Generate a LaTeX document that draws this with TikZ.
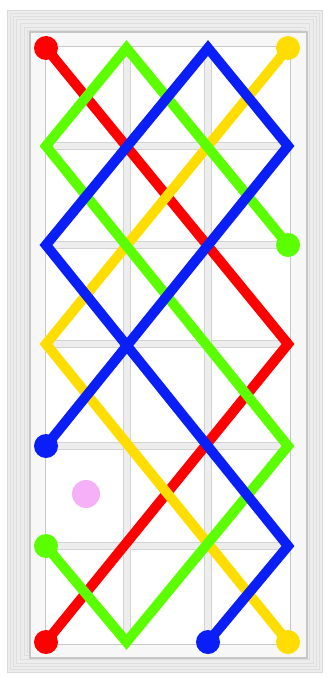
\documentclass[tikz,border=0pt]{standalone}
\usepackage{xcolor}
\usepackage{tikz}
\definecolor{figred}{HTML}{FF0000}
\definecolor{figyellow}{HTML}{FFDD00}
\definecolor{figgreen}{HTML}{5CFF00}
\definecolor{figblue}{HTML}{0A1EF8}
\definecolor{figpink}{HTML}{F5B0F7}
\definecolor{figsash}{HTML}{F7F7F7}
\definecolor{figmould}{HTML}{EDEDED}
\definecolor{figedge}{HTML}{C8C8C8}
\tikzset{
  track/.style={line width=10pt},
  enddot/.style={circle,fill=#1,inner sep=0pt,minimum size=24pt},
  bar/.style={fill=figmould,draw=figedge!80,line width=0.6pt}
}

\begin{document}
\begin{tikzpicture}[x=1pt,y=-1pt]
    \useasboundingbox (0,0) rectangle (328,679);
    \fill[white] (0,0) rectangle (328,679);
    \filldraw[fill=figmould,draw=figedge!70,line width=0.6pt] (7,10) rectangle (322,672);
    \foreach \d in {3,6,9,13,17,20}
      \draw[figedge!60,line width=0.5pt] (7+\d,10+\d) rectangle (322-\d,672-\d);
    \filldraw[fill=figsash,draw=gray!45,line width=1.2pt] (30,32) rectangle (307,658);
    \filldraw[fill=white,draw=figedge,line width=0.6pt] (45,46) rectangle (290,644);
    \foreach \y in {146,245,344,446,546}
      \filldraw[bar] (45,\y-3.5) rectangle (290,\y+3.5);
    \foreach \x in {126.5,208}
      \filldraw[bar] (\x-3.5,46) rectangle (\x+3.5,644);
    \foreach \xx [count=\i from 0] in {46,126.5,208,288}
      \foreach \yy [count=\j from 0] in {48,146,245,344,446,546,642}
        \coordinate (c\i\j) at (\xx,\yy);
    \node[enddot=figpink,minimum size=28pt] (spot) at (86,494) {};
    \node[enddot=figred] (red-a) at (c00) {};
    \node[enddot=figred] (red-b) at (c06) {};
    \draw[track,figred] (red-a.center) -- (c33) -- (red-b.center);
    \node[enddot=figyellow] (yellow-a) at (c30) {};
    \node[enddot=figyellow] (yellow-b) at (c36) {};
    \draw[track,figyellow] (yellow-a.center) -- (c03) -- (yellow-b.center);
    \node[enddot=figgreen] (green-a) at (c32) {};
    \node[enddot=figgreen] (green-b) at (c05) {};
    \draw[track,figgreen] (green-a.center) -- (c10) -- (c01) -- (c34) -- (c16) -- (green-b.center);
    \node[enddot=figblue] (blue-a) at (c04) {};
    \node[enddot=figblue] (blue-b) at (c26) {};
    \draw[track,figblue] (blue-a.center) -- (c31) -- (c20) -- (c02) -- (c35) -- (blue-b.center);
  \end{tikzpicture}
\end{document}
